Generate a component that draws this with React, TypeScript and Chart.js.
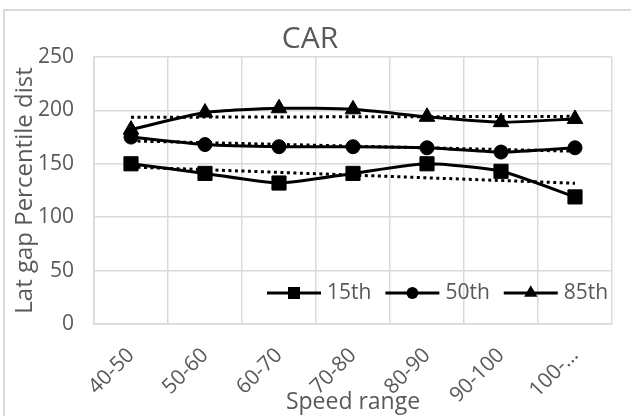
import { useEffect, useRef } from 'react';
import { Chart, registerables } from 'chart.js';

Chart.register(...registerables);

// Speed bands and lateral-gap percentiles (CAR)
const categories = ['40-50', '50-60', '60-70', '70-80', '80-90', '90-100', '100-…'];
const p15 = [150, 141, 132, 141, 150, 143, 119];
const p50 = [175, 168, 166, 166, 165, 161, 165];
const p85 = [182, 198, 202, 201, 194, 189, 192];
const yTicks = [0, 50, 100, 150, 200, 250];

const chartTitle = 'CAR';
const xTitle = 'Speed range';
const yTitle = 'Lat gap Percentile dist';

const FONT = "'Open Sans', sans-serif";
const TEXT = '#595959';
const GRID = '#d9d9d9';

type Series = { label: string; data: number[]; style: 'rect' | 'circle' | 'triangle'; radius: number };

const series: Series[] = [
  { label: '15th', data: p15, style: 'rect', radius: 10 },
  { label: '50th', data: p50, style: 'circle', radius: 7 },
  { label: '85th', data: p85, style: 'triangle', radius: 9 },
];

// Least-squares straight line through a series, evaluated at each category
function linearTrend(values: number[]): number[] {
  const n = values.length;
  const mx = (n - 1) / 2;
  const my = values.reduce((a, b) => a + b, 0) / n;
  let sxy = 0;
  let sxx = 0;
  values.forEach((v, i) => {
    sxy += (i - mx) * (v - my);
    sxx += (i - mx) * (i - mx);
  });
  const slope = sxy / sxx;
  return values.map((_, i) => my + slope * (i - mx));
}

function drawMarker(ctx: CanvasRenderingContext2D, style: string, x: number, y: number, r: number) {
  ctx.beginPath();
  if (style === 'rect') {
    const s = r * Math.SQRT1_2;
    ctx.rect(x - s, y - s, 2 * s, 2 * s);
  } else if (style === 'circle') {
    ctx.arc(x, y, r, 0, Math.PI * 2);
  } else {
    const h = (r * Math.sqrt(3)) / 2;
    ctx.moveTo(x, y - r);
    ctx.lineTo(x + h, y + r / 2);
    ctx.lineTo(x - h, y + r / 2);
    ctx.closePath();
  }
  ctx.fill();
}

// Light frame around the whole chart
const framePlugin = {
  id: 'frame',
  beforeDraw(chart: any) {
    const ctx = chart.ctx as CanvasRenderingContext2D;
    ctx.save();
    ctx.strokeStyle = GRID;
    ctx.lineWidth = 2;
    ctx.strokeRect(4, 10, 720, 500);
    ctx.restore();
  },
};

// Line-and-marker legend placed inside the plot, bottom right
const insideLegendPlugin = {
  id: 'insideLegend',
  afterDraw(chart: any) {
    const ctx = chart.ctx as CanvasRenderingContext2D;
    const area = chart.chartArea;
    const y = area.bottom - 31;
    let x = area.left + 173;
    ctx.save();
    ctx.font = `21px ${FONT}`;
    ctx.textBaseline = 'middle';
    ctx.textAlign = 'left';
    series.forEach((s) => {
      ctx.strokeStyle = '#000';
      ctx.fillStyle = '#000';
      ctx.lineWidth = 3;
      ctx.beginPath();
      ctx.moveTo(x, y);
      ctx.lineTo(x + 54, y);
      ctx.stroke();
      drawMarker(ctx, s.style, x + 27, y, s.radius * 0.85);
      ctx.fillStyle = TEXT;
      ctx.fillText(s.label, x + 60, y);
      x += 60 + ctx.measureText(s.label).width + 14;
    });
    ctx.restore();
  },
};

export default function App() {
  const ref = useRef<HTMLCanvasElement | null>(null);

  useEffect(() => {
    if (!ref.current) return;

    const lineSets = series.map((s) => ({
      label: s.label,
      data: s.data,
      borderColor: '#000',
      backgroundColor: '#000',
      borderWidth: 3,
      tension: 0.2,
      pointStyle: s.style,
      pointRadius: s.radius,
      pointBorderWidth: 1,
      pointBackgroundColor: '#000',
      pointBorderColor: '#000',
      order: 1,
    }));

    const trendSets = series.map((s) => ({
      label: `${s.label} trend`,
      data: linearTrend(s.data),
      borderColor: '#000',
      borderWidth: 3,
      borderDash: [3, 3.5],
      borderCapStyle: 'butt',
      pointRadius: 0,
      tension: 0,
      order: 0,
    }));

    const chart = new Chart(ref.current, {
      type: 'line',
      data: { labels: categories, datasets: [...lineSets, ...trendSets] as any },
      plugins: [framePlugin, insideLegendPlugin],
      options: {
        responsive: false,
        animation: false,
        events: [],
        layout: { padding: { left: 8, right: 50, top: 0, bottom: 0 } },
        plugins: {
          legend: { display: false },
          tooltip: { enabled: false },
          title: {
            display: true,
            text: chartTitle,
            color: TEXT,
            font: { family: FONT, size: 30, weight: 'normal', lineHeight: 1.2 },
            padding: { top: 21, bottom: 0 },
          },
        },
        scales: {
          x: {
            type: 'category',
            offset: true,
            grid: { color: GRID, lineWidth: 1.5, drawTicks: false, offset: true },
            border: { color: GRID, width: 1.5 },
            ticks: {
              color: TEXT,
              font: { family: FONT, size: 21 },
              minRotation: 45,
              maxRotation: 45,
              autoSkip: false,
              padding: 19,
            },
            title: {
              display: true,
              text: xTitle,
              color: TEXT,
              font: { family: FONT, size: 23, lineHeight: 1.2 },
              padding: { top: 0, bottom: 0 },
            },
            afterFit: (scale: any) => {
              scale.height = 92;
            },
          },
          y: {
            min: 0,
            max: 250,
            grid: { color: GRID, lineWidth: 1.5, drawTicks: false },
            border: { color: GRID, width: 1.5 },
            ticks: {
              color: TEXT,
              font: { family: FONT, size: 21 },
              padding: 20,
            },
            afterBuildTicks: (scale: any) => {
              scale.ticks = yTicks.map((v) => ({ value: v }));
            },
            title: {
              display: true,
              text: yTitle,
              color: TEXT,
              font: { family: FONT, size: 24, lineHeight: 1.2 },
              padding: { top: 3, bottom: 0 },
            },
            afterFit: (scale: any) => {
              scale.width = 86;
            },
          },
        },
      } as any,
    });

    return () => chart.destroy();
  }, []);

  return (
    <div
      style={{
        position: 'fixed',
        left: 0,
        top: 0,
        width: 631,
        height: 416,
        overflow: 'hidden',
        background: '#fff',
      }}
    >
      <canvas ref={ref} width={662} height={416} style={{ display: 'block', width: 662, height: 416 }} />
    </div>
  );
}
